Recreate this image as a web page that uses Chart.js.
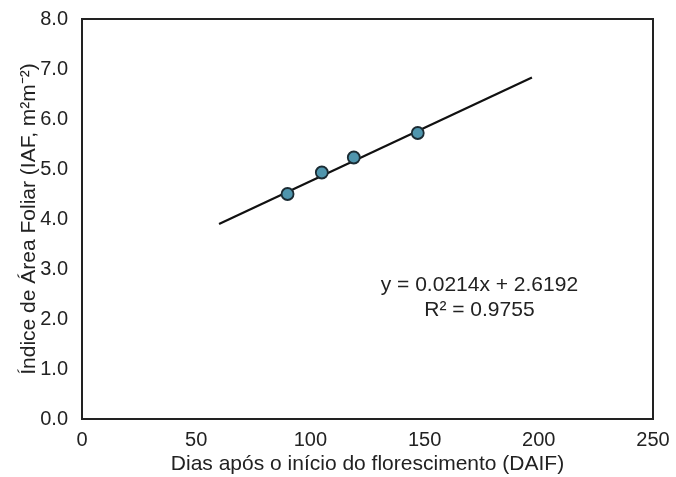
<!DOCTYPE html>
<html>
<head>
<meta charset="utf-8">
<script src="https://cdn.jsdelivr.net/npm/chart.js@4"></script>
<style>
html,body{margin:0;padding:0;background:#fff;}
#wrap{width:676px;height:477px;position:relative;}
</style>
</head>
<body>
<div id="wrap"><canvas id="c" width="676" height="477"></canvas></div>
<script>
// Observed data (days after start of flowering vs. leaf area index)
const daysAfterFlowering = [90, 105, 119, 147];
const leafAreaIndex = [4.5, 4.93, 5.23, 5.72];
// Trend line end points
const trendX = [60, 197];
const trendY = [3.9, 6.83];
// Axis ticks
const xTicks = [0, 50, 100, 150, 200, 250];
const yTicks = [0, 1, 2, 3, 4, 5, 6, 7, 8];
// Annotation texts
const equationText = "y = 0.0214x + 2.6192";
const r2Text = "R² = 0.9755";
const equationAnchor = [174, 2.68];
const r2Anchor = [174, 2.18];

const FONT = "'Liberation Sans', Arial, sans-serif";

const framePlugin = {
  id: 'frame',
  afterDatasetsDraw(chart) {
    const {ctx, chartArea: a} = chart;
    ctx.save();
    ctx.strokeStyle = '#222';
    ctx.lineWidth = 2;
    ctx.strokeRect(a.left, a.top, a.right - a.left, a.bottom - a.top);
    ctx.restore();
  },
  afterDraw(chart) {
    const {ctx, scales} = chart;
    ctx.save();
    ctx.fillStyle = '#222';
    ctx.font = "21px " + FONT;
    ctx.textAlign = 'center';
    ctx.textBaseline = 'middle';
    ctx.fillText(equationText, scales.x.getPixelForValue(equationAnchor[0]), scales.y.getPixelForValue(equationAnchor[1]));
    ctx.fillText(r2Text, scales.x.getPixelForValue(r2Anchor[0]), scales.y.getPixelForValue(r2Anchor[1]));
    ctx.restore();
  }
};

new Chart(document.getElementById('c'), {
  type: 'scatter',
  data: {
    datasets: [
      {
        type: 'scatter',
        data: daysAfterFlowering.map((d, i) => ({x: d, y: leafAreaIndex[i]})),
        backgroundColor: '#4f95ad',
        borderColor: '#1b2b33',
        borderWidth: 1.8,
        pointRadius: 6,
        pointHoverRadius: 6,
        order: 0
      },
      {
        type: 'line',
        data: trendX.map((d, i) => ({x: d, y: trendY[i]})),
        borderColor: '#111',
        borderWidth: 2.2,
        pointRadius: 0,
        fill: false,
        order: 1
      }
    ]
  },
  options: {
    responsive: false,
    animation: false,
    events: [],
    layout: {padding: {top: 19, right: 23, left: 0, bottom: 0}},
    plugins: {legend: {display: false}, tooltip: {enabled: false}},
    scales: {
      x: {
        type: 'linear',
        min: 0, max: 250,
        afterBuildTicks(s) { s.ticks = xTicks.map(v => ({value: v})); },
        afterFit(s) { s.height = 58; s.paddingLeft = 0; s.paddingRight = 0; },
        grid: {display: false, drawTicks: false},
        border: {display: false},
        ticks: {color: '#222', font: {family: FONT, size: 20}, padding: 9, maxRotation: 0},
        title: {display: true, text: 'Dias após o início do florescimento (DAIF)', color: '#222', font: {family: FONT, size: 21}, padding: {top: 0, bottom: 0}}
      },
      y: {
        type: 'linear',
        min: 0, max: 8,
        afterBuildTicks(s) { s.ticks = yTicks.map(v => ({value: v})); },
        afterFit(s) { s.width = 82; s.paddingTop = 0; s.paddingBottom = 0; },
        grid: {display: false, drawTicks: false},
        border: {display: false},
        ticks: {color: '#222', font: {family: FONT, size: 20}, padding: 14, callback: v => Number(v).toFixed(1)},
        title: {display: true, text: 'Índice de Área Foliar (IAF, m²m⁻²)', color: '#222', font: {family: FONT, size: 21}, padding: {top: 17, bottom: 0}}
      }
    }
  },
  plugins: [framePlugin]
});
</script>
</body>
</html>
